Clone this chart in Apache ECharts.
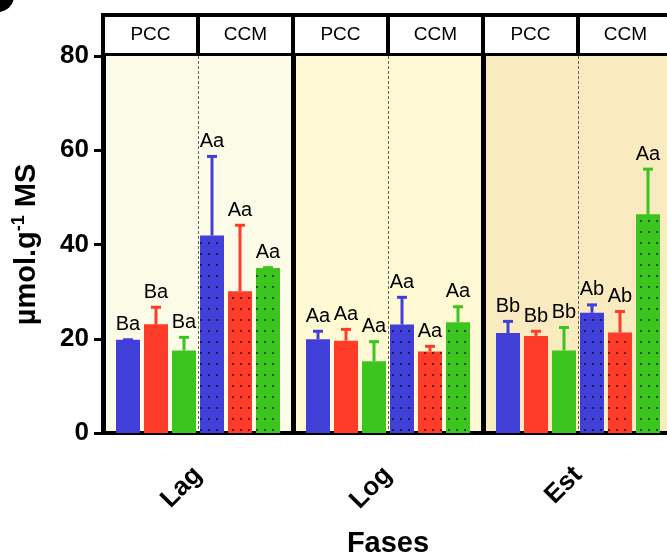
<!DOCTYPE html>
<html>
<head>
<meta charset="utf-8">
<script src="https://cdn.jsdelivr.net/npm/echarts@6/dist/echarts.min.js"></script>
<style>
html,body{margin:0;padding:0;background:#fff;}
.main{width:667px;height:557px;}
</style>
</head>
<body>
<div class="main"></div>
<script>
var phases = ['Lag', 'Log', 'Est'];
var heads = ['PCC', 'CCM', 'PCC', 'CCM', 'PCC', 'CCM'];
// means, one entry per phase (Lag, Log, Est)
var pccBlue = [19.8, 19.9, 21.2];
var pccRed = [23.1, 19.6, 20.6];
var pccGreen = [17.5, 15.2, 17.5];
var ccmBlue = [41.9, 23.0, 25.5];
var ccmRed = [30.1, 17.3, 21.3];
var ccmGreen = [35.0, 23.5, 46.4];
// standard deviations (upper error bar only)
var pccBlueSd = [0.2, 1.9, 2.7];
var pccRedSd = [3.8, 2.6, 1.2];
var pccGreenSd = [3.0, 4.4, 5.1];
var ccmBlueSd = [17.0, 6.0, 1.9];
var ccmRedSd = [14.2, 1.3, 4.7];
var ccmGreenSd = [0.3, 3.5, 9.8];
// letters above the bars
var pccBlueTxt = ['Ba', 'Aa', 'Bb'];
var pccRedTxt = ['Ba', 'Aa', 'Bb'];
var pccGreenTxt = ['Ba', 'Aa', 'Bb'];
var ccmBlueTxt = ['Aa', 'Aa', 'Ab'];
var ccmRedTxt = ['Aa', 'Aa', 'Ab'];
var ccmGreenTxt = ['Aa', 'Aa', 'Aa'];
var yTicks = [0, 20, 40, 60, 80];

var colors = ['#4040d8', '#ff3b29', '#3dc51f'];
var bgColors = ['#fcfbe8', '#fff9d4', '#f9eabf'];
var BAR_W = 24, BAR_GAP = 4;
var FONT = 'Liberation Sans, Arial, sans-serif';

var means = [pccBlue, pccRed, pccGreen, ccmBlue, ccmRed, ccmGreen];
var sds = [pccBlueSd, pccRedSd, pccGreenSd, ccmBlueSd, ccmRedSd, ccmGreenSd];
var txts = [pccBlueTxt, pccRedTxt, pccGreenTxt, ccmBlueTxt, ccmRedTxt, ccmGreenTxt];

var errData = [], errTxt = [];
for (var s = 0; s < 6; s++) {
  for (var p = 0; p < phases.length; p++) {
    errData.push([p, means[s][p], sds[s][p], s]);
    errTxt.push(txts[s][p]);
  }
}

var dots = {
  symbol: 'rect', symbolSize: 1,
  dashArrayX: [[2, 6]], dashArrayY: [2, 9],
  color: 'rgba(0,0,0,0.6)'
};

var series = [];
for (var i = 0; i < 6; i++) {
  series.push({
    type: 'bar', xAxisIndex: 0, yAxisIndex: 0,
    data: means[i], barWidth: BAR_W, barGap: (BAR_GAP / BAR_W * 100) + '%',
    itemStyle: { color: colors[i % 3], decal: i >= 3 ? dots : null },
    z: 3
  });
}
series.push({
  type: 'custom', xAxisIndex: 0, yAxisIndex: 0, z: 5,
  data: errData,
  renderItem: function (params, api) {
    var cat = api.value(0), mean = api.value(1), sd = api.value(2), slot = api.value(3);
    var base = api.coord([cat, mean]);
    var top = api.coord([cat, mean + sd]);
    var x = base[0] + (slot - 2.5) * (BAR_W + BAR_GAP);
    var c = colors[slot % 3];
    return {
      type: 'group',
      children: [
        { type: 'line', shape: { x1: x, y1: base[1], x2: x, y2: top[1] }, style: { stroke: c, lineWidth: 3 } },
        { type: 'line', shape: { x1: x - 5, y1: top[1] + 1, x2: x + 5, y2: top[1] + 1 }, style: { stroke: c, lineWidth: 3 } },
        { type: 'text', style: { text: errTxt[params.dataIndex], x: x, y: top[1] - 4, align: 'center', verticalAlign: 'bottom', fontSize: 20, fontFamily: FONT, fill: '#000' } }
      ]
    };
  }
});

var myChart = echarts.init(document.querySelector('.main'));
var option = {
  animation: false,
  // cropped panel letter in the top-left corner
  graphic: [{ type: 'circle', left: -18, top: -20, shape: { r: 16 }, style: { fill: '#000' } }],
  grid: [
    { left: 103, right: -6, top: 56, bottom: 124, outerBoundsMode: 'none', containLabel: false },
    { left: 103, right: -6, top: 15, height: 40, show: true, backgroundColor: '#fff', borderColor: '#000', borderWidth: 4, outerBoundsMode: 'none', containLabel: false }
  ],
  xAxis: [
    {
      type: 'category', gridIndex: 0, data: phases,
      axisLine: { lineStyle: { color: '#000', width: 4 } },
      axisTick: { alignWithLabel: true, length: 10, lineStyle: { color: '#000', width: 3 } },
      axisLabel: { rotate: 45, margin: 38, color: '#000', fontSize: 26, fontWeight: 'bold', fontFamily: FONT },
      splitLine: { show: true, lineStyle: { color: '#000', width: 5 } },
      splitArea: { show: true, areaStyle: { color: bgColors } },
      name: 'Fases', nameLocation: 'middle', nameGap: 96,
      nameTextStyle: { color: '#000', fontSize: 29, fontWeight: 'bold', fontFamily: FONT }
    },
    {
      type: 'category', gridIndex: 1, data: heads,
      axisLine: { show: false }, axisTick: { show: false },
      axisLabel: { inside: true, margin: 11, color: '#000', fontSize: 19, fontFamily: 'Liberation Sans Narrow, ' + FONT },
      splitLine: { show: true, lineStyle: { color: '#000', width: 4 } }
    },
    {
      type: 'category', gridIndex: 0, data: heads,
      axisLine: { show: false }, axisTick: { show: false }, axisLabel: { show: false },
      splitLine: { show: true, interval: function (idx) { return idx % 2 === 1; }, lineStyle: { color: '#666', width: 1, type: [3, 2] } }
    }
  ],
  yAxis: [
    {
      type: 'value', gridIndex: 0, min: yTicks[0], max: yTicks[yTicks.length - 1], interval: 20,
      axisLine: { show: true, lineStyle: { color: '#000', width: 4 } },
      axisTick: { show: true, length: 9, lineStyle: { color: '#000', width: 3 } },
      axisLabel: { margin: 14, color: '#000', fontSize: 26, fontWeight: 'bold', fontFamily: FONT },
      splitLine: { show: false },
      name: '{a|µmol.g}{s|-1}{a| MS}', nameLocation: 'middle', nameGap: 60,
      nameTextStyle: {
        rich: {
          a: { fontSize: 29, fontWeight: 'bold', fontFamily: FONT, color: '#000', lineHeight: 33 },
          s: { fontSize: 18, fontWeight: 'bold', fontFamily: FONT, color: '#000', verticalAlign: 'top', lineHeight: 33 }
        }
      }
    },
    { type: 'value', gridIndex: 1, show: false, splitLine: { show: false } }
  ],
  series: series
};
myChart.setOption(option);
</script>
</body>
</html>
